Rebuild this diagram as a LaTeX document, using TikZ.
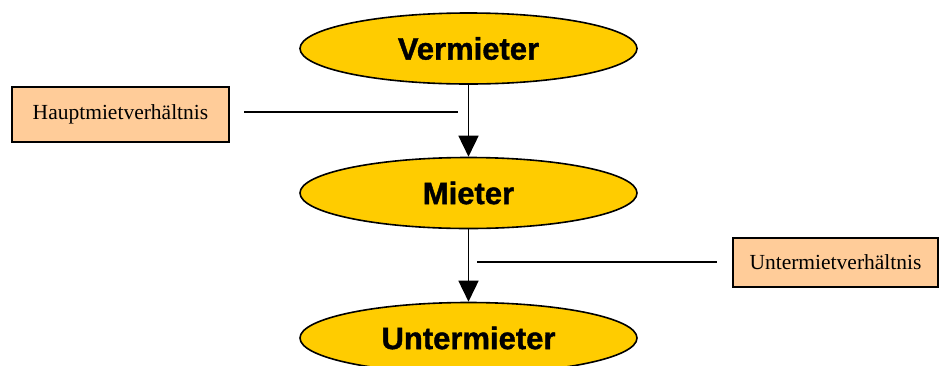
\documentclass[tikz,border=0pt]{standalone}
\usepackage{fontspec}
\setmainfont{Liberation Serif}
\setsansfont{Liberation Sans}
\newfontfamily\heavy{Liberation Sans}[BoldFeatures={FakeBold=1.2}]
\usetikzlibrary{shapes.geometric,arrows.meta}
\definecolor{ellfill}{HTML}{FFCC00}
\definecolor{boxfill}{HTML}{FFCC99}
\tikzset{
  party/.style={ellipse, draw=black, line width=1.6pt, fill=ellfill, inner sep=0pt,
    minimum width=337pt, minimum height=71pt,
    font=\heavy\bfseries\fontsize{31}{33}\selectfont},
  relbox/.style={rectangle, draw=black, line width=1.5pt, fill=boxfill, inner sep=0pt,
    font=\fontsize{21.5}{23}\selectfont},
  flow/.style={line width=1.6pt, -{Triangle[length=21pt,width=20pt]}},
  pointer/.style={line width=1.4pt}
}
\begin{document}
\begin{tikzpicture}[x=1pt,y=1pt]
\useasboundingbox (0,0) rectangle (939,-365);
\clip (0,0) rectangle (939,-365);
\node[party] (verm) at (468.5,-48.5) {Vermieter};
\node[party] (miet) at (468.5,-193) {Mieter};
\node[party] (unter) at (468.5,-338) {Untermieter};
\node[relbox, minimum width=217pt, minimum height=55pt] (haupt) at (120.5,-114.5) {Hauptmietverhältnis};
\node[relbox, minimum width=205pt, minimum height=49pt] (untv) at (835.5,-262.5) {Untermietverhältnis};
\draw[flow] (verm.south) -- (miet.north);
\draw[flow] (miet.south) -- (unter.north);
\coordinate (h1) at (244,-112);
\coordinate (h2) at (458,-112);
\coordinate (u1) at (477,-262);
\coordinate (u2) at (717,-262);
\draw[pointer] (h1) -- (h2);
\draw[pointer] (u1) -- (u2);
\end{tikzpicture}
\end{document}
